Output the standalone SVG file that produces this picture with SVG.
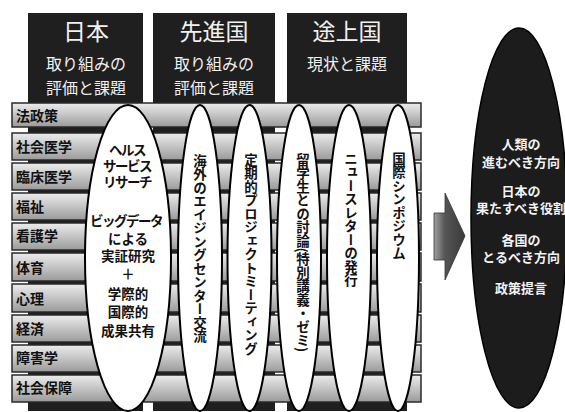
<svg xmlns="http://www.w3.org/2000/svg" width="565" height="412" viewBox="0 0 565 412">
<style>
text{font-family:'Noto Sans CJK JP','Noto Sans',sans-serif;}
.col{fill:#1f1f1f;}
.hd{fill:#f0f0f0;text-anchor:middle;}
.bar{fill:url(#barg);stroke:#2a2a2a;stroke-width:1.5;}
.lbl{font-size:14px;font-weight:bold;fill:#111;}
.ell{fill:#fff;stroke:#000;stroke-width:2;}
.et{font-size:13.5px;font-weight:bold;fill:#111;text-anchor:middle;}
.kt{letter-spacing:-1.5px;}
.vt{font-size:13.5px;font-weight:bold;fill:#111;writing-mode:vertical-rl;}
.rt{font-size:13px;font-weight:bold;fill:#f2f2f2;text-anchor:middle;}
</style>
<defs>
<linearGradient id="barg" x1="0" y1="0" x2="0" y2="1">
<stop offset="0" stop-color="#ececec"/>
<stop offset="0.5" stop-color="#c4c4c4"/>
<stop offset="1" stop-color="#9a9a9a"/>
</linearGradient>
<linearGradient id="arrg" x1="0" y1="0" x2="1" y2="0">
<stop offset="0" stop-color="#a0a0a0"/>
<stop offset="0.35" stop-color="#555"/>
<stop offset="1" stop-color="#3a3a3a"/>
</linearGradient>
</defs>

<g id="columns">
<g id="col-japan">
<rect class="col" x="28" y="13" width="115" height="398"/>
<text class="hd" x="86" y="40" font-size="23">日本</text>
<text class="hd" x="86" y="70" font-size="16">取り組みの</text>
<text class="hd" x="86" y="94" font-size="16">評価と課題</text>
</g>
<g id="col-developed">
<rect class="col" x="153" y="13" width="122" height="398"/>
<text class="hd" x="214" y="40" font-size="23">先進国</text>
<text class="hd" x="214" y="70" font-size="16">取り組みの</text>
<text class="hd" x="214" y="94" font-size="16">評価と課題</text>
</g>
<g id="col-developing">
<rect class="col" x="287" y="13" width="120" height="398"/>
<text class="hd" x="347" y="40" font-size="23">途上国</text>
<text class="hd" x="347" y="70" font-size="16">現状と課題</text>
</g>
</g>

<g id="bars">
<g id="bar-1"><rect class="bar" x="12" y="103" width="409" height="24"/><text class="lbl" x="16" y="121">法政策</text></g>
<g id="bar-2"><rect class="bar" x="12" y="133" width="409" height="27"/><text class="lbl" x="16" y="152">社会医学</text></g>
<g id="bar-3"><rect class="bar" x="12" y="163" width="409" height="27"/><text class="lbl" x="16" y="182">臨床医学</text></g>
<g id="bar-4"><rect class="bar" x="12" y="193" width="409" height="27"/><text class="lbl" x="16" y="212">福祉</text></g>
<g id="bar-5"><rect class="bar" x="12" y="223" width="409" height="27"/><text class="lbl" x="16" y="241">看護学</text></g>
<g id="bar-6"><rect class="bar" x="12" y="253" width="409" height="28"/><text class="lbl" x="16" y="273">体育</text></g>
<g id="bar-7"><rect class="bar" x="12" y="284" width="409" height="28"/><text class="lbl" x="16" y="304">心理</text></g>
<g id="bar-8"><rect class="bar" x="12" y="315" width="409" height="27"/><text class="lbl" x="16" y="334">経済</text></g>
<g id="bar-9"><rect class="bar" x="12" y="345" width="409" height="27"/><text class="lbl" x="16" y="363">障害学</text></g>
<g id="bar-10"><rect class="bar" x="12" y="375" width="409" height="27"/><text class="lbl" x="16" y="393">社会保障</text></g>
</g>

<g id="node-hsr">
<ellipse class="ell" cx="128" cy="258" rx="43" ry="153"/>
<text class="et kt" x="127" y="155">ヘルス</text>
<text class="et kt" x="127" y="171">サービス</text>
<text class="et kt" x="127" y="187">リサーチ</text>
<text class="et kt" x="126" y="226">ビッグデータ</text>
<text class="et" x="128" y="244">による</text>
<text class="et" x="128" y="261">実証研究</text>
<text class="et" x="128" y="279">＋</text>
<text class="et" x="128" y="299">学際的</text>
<text class="et" x="128" y="317">国際的</text>
<text class="et" x="128" y="336">成果共有</text>
</g>
<g id="node-aging">
<ellipse class="ell" cx="200" cy="258" rx="22" ry="153"/>
<text class="vt" x="200" y="154">海外のエイジングセンター交流</text>
</g>
<g id="node-project">
<ellipse class="ell" cx="249.5" cy="258" rx="22" ry="153"/>
<text class="vt" x="251" y="153">定期的プロジェクトミーティング</text>
</g>
<g id="node-students">
<ellipse class="ell" cx="299" cy="258" rx="22" ry="153"/>
<text class="vt" x="303" y="153">留学生との討論(特別講義・ゼミ)</text>
</g>
<g id="node-newsletter">
<ellipse class="ell" cx="349" cy="258" rx="22" ry="153"/>
<text class="vt" x="351" y="152">ニュースレターの発行</text>
</g>
<g id="node-symposium">
<ellipse class="ell" cx="398" cy="258" rx="21" ry="153"/>
<text class="vt" x="399" y="152">国際シンポジウム</text>
</g>

<g id="connectors">
<path d="M434,213 H445 V193 L465,236 L445,280 V260 H434 Z" fill="url(#arrg)" stroke="#333" stroke-width="0.8"/>
</g>

<g id="node-outcome">
<ellipse cx="519" cy="218" rx="48" ry="190" fill="#1c1c1c" stroke="#000" stroke-width="1.5"/>
<text class="rt" x="521" y="149">人類の</text>
<text class="rt" x="521" y="167">進むべき方向</text>
<text class="rt" x="521" y="196">日本の</text>
<text class="rt" x="521" y="213">果たすべき役割</text>
<text class="rt" x="521" y="245">各国の</text>
<text class="rt" x="521" y="262">とるべき方向</text>
<text class="rt" x="521" y="293">政策提言</text>
</g>
</svg>
